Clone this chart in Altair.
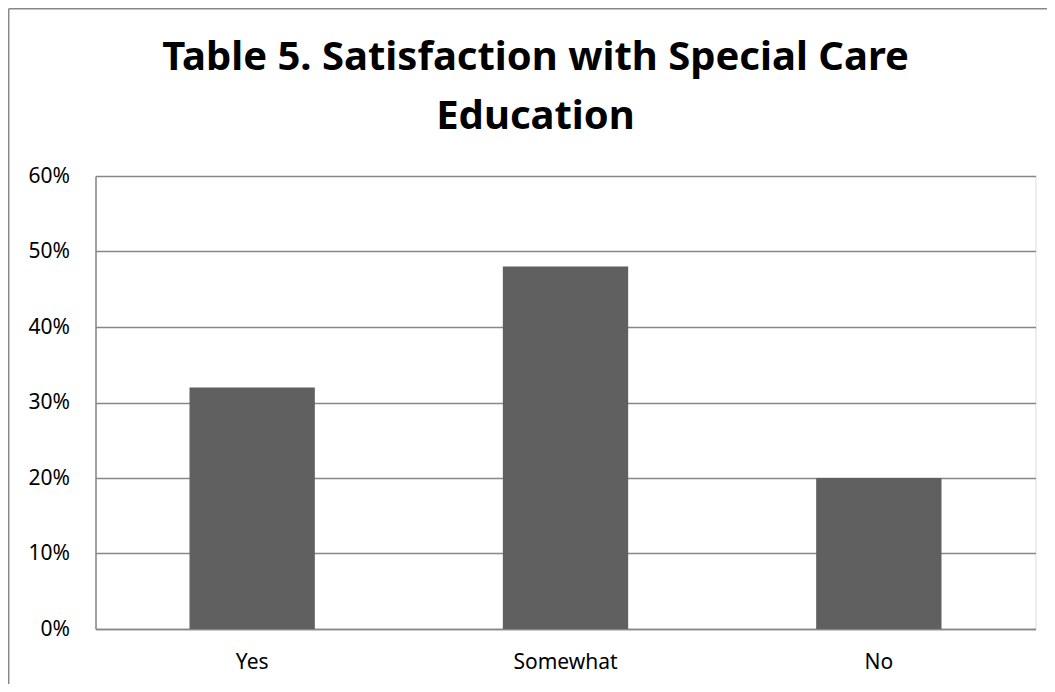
import altair as alt
import pandas as pd

categories = ["Yes", "Somewhat", "No"]
values = [0.32, 0.48, 0.20]

df = pd.DataFrame({"category": categories, "value": values})

FONT = "Noto Sans"
GREY = "#878787"

bars = alt.Chart(df).mark_bar(color="#606060").encode(
    x=alt.X("category:N", sort=categories,
            scale=alt.Scale(paddingInner=0.6, paddingOuter=0.3),
            axis=alt.Axis(title=None, labelAngle=0, ticks=False, domain=True,
                          domainColor=GREY, domainWidth=1.5, labelPadding=22,
                          labelFont=FONT, labelFontSize=21, labelColor="#000000")),
    y=alt.Y("value:Q", scale=alt.Scale(domain=[0, 0.6]),
            axis=alt.Axis(title=None, format=".0%", values=[0, 0.1, 0.2, 0.3, 0.4, 0.5, 0.6],
                          ticks=False, domain=True, domainColor=GREY, domainWidth=1.5,
                          grid=True, gridColor=GREY, gridWidth=1.5, labelPadding=26,
                          labelFont=FONT, labelFontSize=21, labelColor="#000000")),
)

one = pd.DataFrame({"f": [0]})
frame_left = alt.Chart(one).mark_rule(color=GREY, strokeWidth=1.5).encode(
    x=alt.value(-86.8), y=alt.value(-167.3), y2=alt.value(520),
)
frame_top = alt.Chart(one).mark_rule(color=GREY, strokeWidth=1.5).encode(
    x=alt.value(-86.8), x2=alt.value(960), y=alt.value(-167.3),
)

chart = alt.layer(frame_left, frame_top, bars).properties(
    width=940,
    height=453,
    padding={"left": 87.5, "top": 168, "right": 11.5, "bottom": 55},
    autosize=alt.AutoSizeParams(type="none"),
    title=alt.TitleParams(
        text=["Table 5. Satisfaction with Special Care", "Education"],
        font=FONT, fontSize=40, fontWeight="bold", color="#000000",
        anchor="middle", dx=-30, offset=-129, lineHeight=59,
    ),
).configure_view(stroke=None).configure(background="#ffffff")

chart.save("out.html", embed_options={"renderer": "svg", "actions": False})
